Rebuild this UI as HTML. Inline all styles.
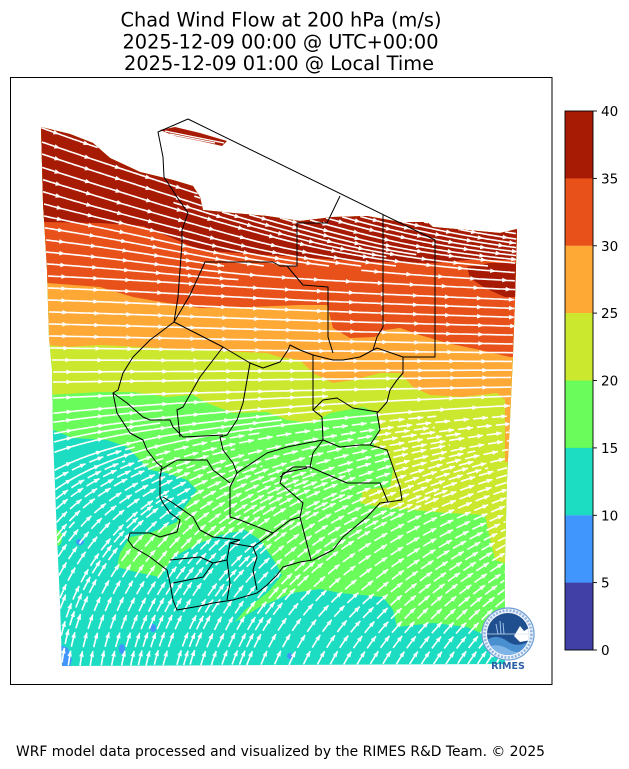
<!DOCTYPE html>
<html><head><meta charset="utf-8"><style>
html,body{margin:0;padding:0;background:#fff;}
body{width:629px;height:769px;overflow:hidden;}
svg{display:block;}
text{font-family:"DejaVu Sans","Liberation Sans",sans-serif;fill:#000;}
</style></head><body>
<svg id="s" width="629" height="769" viewBox="0 0 629 769" xmlns="http://www.w3.org/2000/svg">
<rect width="629" height="769" fill="#fff"/>
<defs>
<clipPath id="dom"><polygon points="41,127 70,134 93,143 110,158 140,172 173,180 193,186 200,197 203,210 233,213 267,216 300,221 333,217 367,216 400,222 427,222 433,227 467,230 500,233 517,229 515,300 513,355 510,420 507,480 505,560 505,664 62,666 60,603 57,537 53,437 52,370 49,337 47,270 43,203"/></clipPath>
<clipPath id="logoc"><circle cx="508" cy="634" r="21"/></clipPath>
</defs>
<g clip-path="url(#dom)">
<rect x="0" y="0" width="629" height="769" fill="#1cdcc2"/>
<polygon fill="#6afc5b" points="0,430 53,430 73,438 107,440 127,447 140,460 150,470 167,473 187,480 197,490 190,500 180,513 177,522 150,533 130,537 120,553 117,567 140,573 160,577 167,567 173,557 200,543 220,535 245,530 260,540 275,562 282,575 268,592 245,610 235,622 260,607 292,593 320,589 340,593 383,597 393,610 397,627 433,623 467,627 490,637 505,645 600,645 600,0 0,0"/>
<ellipse cx="57" cy="538" rx="5" ry="8" fill="#6afc5b"/>
<polygon fill="#cbe82e" points="0,395 48,395 100,392 133,392 167,397 193,395 207,403 233,413 267,412 287,420 313,423 330,413 363,407 377,413 380,430 373,447 387,450 393,470 390,487 363,490 360,503 380,507 413,510 447,513 485,515 488,530 495,560 510,565 600,565 600,0 0,0"/>
<polygon fill="#fea836" points="0,345 49,345 67,347 100,345 200,350 267,353 280,357 300,360 313,373 333,383 353,380 380,373 400,373 413,387 430,395 463,397 497,393 505,400 505,462 600,462 600,0 0,0"/>
<polygon fill="#e9511a" points="0,283 47,283 100,287 133,297 167,303 200,308 250,307 300,305 327,305 333,328 350,338 375,337 385,330 400,328 420,335 447,343 480,350 510,357 600,357 600,0 0,0"/>
<polygon fill="#a71a04" points="0,222 43,222 100,223 143,226 170,237 200,250 250,254 300,257 340,260 383,262 433,263 467,260 517,260 600,260 600,0 0,0"/>
<polygon fill="#a71a04" points="467,267 490,263 517,263 517,297 505,297 485,288 470,278"/>
<g fill="#4196fe">
<ellipse cx="80" cy="542" rx="4" ry="3"/>
<ellipse cx="153" cy="628" rx="3" ry="4"/>
<ellipse cx="122" cy="649" rx="3" ry="5"/>
<polygon points="60,645 68,648 72,660 70,666 60,666"/>
<ellipse cx="290" cy="656" rx="3" ry="3"/>
</g>
<g id="stream"></g>
</g>
<polygon fill="#a71a04" points="160,130 175,127 200,133 227,141 222,146 200,141 175,136"/>
<path d="M165,131 L224,143 M170,134 L215,143" stroke="#fff" stroke-width="1.2" fill="none"/>
<g fill="none" stroke="#000" stroke-width="1" stroke-linejoin="round">
<polyline points="188,119 435,240 435,357 403,357 403,373 397,380 390,390 387,402 380,410 377,413 380,430 370,445 387,450 393,467 400,487 402,500 388,502 380,503 367,517 343,537 333,550 313,560 300,562 283,567 277,575 267,585 257,593 233,600 213,603 200,606 177,610 173,600 170,583 167,570 150,557 133,547 128,540 130,533 150,533 160,537 177,532 180,520 170,513 163,503 160,497 160,477 162,467 157,463 147,450 143,440 130,433 117,413 113,393 118,390 123,373 133,357 150,340 174,322 178,297 180,270 182,243 182,230 188,213 177,197 164,177 163,157 158,132 188,119"/>
<polyline points="174,322 190,295 205,262 273,262 280,266 297,266 297,223 327,223 340,196"/>
<polyline points="287,266 303,285 328,287 328,337 333,353"/>
<polyline points="383,215 383,327 377,337 373,350"/>
<polyline points="174,322 223,347 250,363 263,368 280,362 288,350 290,345 300,350 313,355 333,360 343,360 360,357 373,350 377,348 403,357"/>
<polyline points="223,347 200,377 183,407 177,410 180,437"/>
<polyline points="250,363 243,403 237,420 227,435 220,437 223,450 233,463 237,473 230,487 230,517 240,520 273,533 290,520 300,517 303,503 280,483 283,473 307,468"/>
<polyline points="313,355 313,410 323,400 337,398 353,408 378,412"/>
<polyline points="313,410 322,417 323,440 313,453 310,467 347,483 380,483 388,502"/>
<polyline points="237,473 267,453 287,447 307,443 323,440 340,447 360,445 370,445"/>
<polyline points="310,467 293,467 280,477"/>
<polyline points="300,517 311,560"/>
<polyline points="113,393 127,403 143,417 150,420 170,420 173,427 183,437 223,435"/>
<polyline points="160,470 177,460 207,460 213,470 230,483"/>
<polyline points="163,497 173,503 193,517 200,530 213,537 240,540"/>
<polyline points="170,560 200,557 213,563 203,577 173,583"/>
<polyline points="213,563 227,560 230,543 240,540"/>
<polyline points="227,560 230,583 227,600"/>
<polyline points="230,543 253,547 257,557 253,570 257,590"/>
<polyline points="253,547 273,533"/>
</g>
<rect x="10.5" y="77.5" width="541.5" height="607" fill="none" stroke="#000" stroke-width="1"/>
<!-- colorbar -->
<g>
<rect x="565" y="111" width="28" height="67.5" fill="#a71a04"/>
<rect x="565" y="178.4" width="28" height="67.5" fill="#e9511a"/>
<rect x="565" y="245.8" width="28" height="67.5" fill="#fea836"/>
<rect x="565" y="313.1" width="28" height="67.5" fill="#cbe82e"/>
<rect x="565" y="380.5" width="28" height="67.5" fill="#6afc5b"/>
<rect x="565" y="447.9" width="28" height="67.5" fill="#1cdcc2"/>
<rect x="565" y="515.3" width="28" height="67.5" fill="#4196fe"/>
<rect x="565" y="582.6" width="28" height="67.4" fill="#4140a6"/>
<rect x="565" y="111" width="28" height="539" fill="none" stroke="#000" stroke-width="0.9"/>
<g stroke="#000" stroke-width="0.9">
<line x1="593" y1="111" x2="597" y2="111"/><line x1="593" y1="178.4" x2="597" y2="178.4"/>
<line x1="593" y1="245.8" x2="597" y2="245.8"/><line x1="593" y1="313.1" x2="597" y2="313.1"/>
<line x1="593" y1="380.5" x2="597" y2="380.5"/><line x1="593" y1="447.9" x2="597" y2="447.9"/>
<line x1="593" y1="515.3" x2="597" y2="515.3"/><line x1="593" y1="582.6" x2="597" y2="582.6"/>
<line x1="593" y1="650" x2="597" y2="650"/>
</g>
<g font-size="13.5">
<text x="601" y="116">40</text><text x="601" y="183.4">35</text><text x="601" y="250.8">30</text>
<text x="601" y="318.1">25</text><text x="601" y="385.5">20</text><text x="601" y="452.9">15</text>
<text x="601" y="520.3">10</text><text x="601" y="587.6">5</text><text x="601" y="655">0</text>
</g>
</g>
<!-- logo -->
<g>
<circle cx="508" cy="634" r="26" fill="#eef4fb" stroke="#6b9bd2" stroke-width="1.2"/>
<circle cx="508" cy="634" r="23.5" fill="none" stroke="#8fb3de" stroke-width="2.5" stroke-dasharray="2 1.5"/>
<circle cx="508" cy="634" r="21" fill="#1f4f8f"/>
<g clip-path="url(#logoc)">
<path d="M485,641 Q496,633 507,641 T531,640 L531,660 L485,660 Z" fill="#4a8fd0"/>
<path d="M485,648 Q497,642 508,649 T531,648 L531,660 L485,660 Z" fill="#7fb4e6"/>
<path d="M514,636 L520,626 L524,631 L529,628 L531,640 L520,642 Z" fill="#ffffff"/>
<path d="M496,624 L498,634 M500,621 L501,634 M503,623 L504,634" stroke="#9fc4ea" stroke-width="1"/>
<line x1="487" y1="634" x2="529" y2="634" stroke="#cfe0f3" stroke-width="0.8"/>
</g>
<text x="508" y="669" font-size="9.5" font-weight="bold" text-anchor="middle" style="fill:#2a5fa5">RIMES</text>
</g>
<!-- titles -->
<text x="281" y="26.7" font-size="19.2" text-anchor="middle" textLength="321" lengthAdjust="spacingAndGlyphs">Chad Wind Flow at 200 hPa (m/s)</text>
<text x="280.5" y="48.3" font-size="19.2" text-anchor="middle" textLength="316" lengthAdjust="spacingAndGlyphs">2025-12-09 00:00 @ UTC+00:00</text>
<text x="279" y="70" font-size="19.2" text-anchor="middle" textLength="310" lengthAdjust="spacingAndGlyphs">2025-12-09 01:00 @ Local Time</text>
<text x="16" y="756" font-size="13.8" textLength="529" lengthAdjust="spacingAndGlyphs">WRF model data processed and visualized by the RIMES R&amp;D Team. © 2025</text>
</svg>
<script>
(function(){
var rows=[125,200,240,280,340,390,430,470,530,600,670];
var cols=[40,200,360,520];
var A=[
[-20,-20,-16,-10],
[-16,-18,-16,-10],
[-6,-15,-14,-8],
[-2,-4,-3,-3],
[-1,-1,-1,-1],
[1,1,1,1],
[10,8,8,6],
[28,20,18,15],
[52,42,30,25],
[70,58,42,38],
[86,75,62,58]];
function idx(arr,v){var n=arr.length;if(v<=arr[0])return [0,0];if(v>=arr[n-1])return [n-2,1];
for(var i=0;i<n-1;i++){if(v<=arr[i+1])return [i,(v-arr[i])/(arr[i+1]-arr[i])];}return [n-2,1];}
function ang(x,y){var r=idx(rows,y),c=idx(cols,x);var i=r[0],t=r[1],j=c[0],s=c[1];
var a=A[i][j]*(1-s)+A[i][j+1]*s,b=A[i+1][j]*(1-s)+A[i+1][j+1]*s;return (a*(1-t)+b*t)*Math.PI/180;}
var dom=[[41,127],[70,134],[93,143],[110,158],[140,172],[173,180],[193,186],[200,197],[203,210],[233,213],[267,216],[300,221],[333,217],[367,216],[400,222],[427,222],[433,227],[467,230],[500,233],[517,229],[515,300],[513,355],[510,420],[507,480],[505,560],[505,664],[62,666],[60,603],[57,537],[53,437],[52,370],[49,337],[47,270],[43,203]];
function inDom(x,y){var ins=false;for(var i=0,j=dom.length-1;i<dom.length;j=i++){var xi=dom[i][0],yi=dom[i][1],xj=dom[j][0],yj=dom[j][1];
if(((yi>y)!=(yj>y))&&(x<(xj-xi)*(y-yi)/(yj-yi)+xi))ins=!ins;}return ins;}
function dsep(x,y){if(y<266){var w=Math.min(1,Math.max(0,(x-170)/35));return 10.5*(1-w)+4.6*w;}
if(y<420)return 10.5;if(y<470)return 8;return 6.3;}
var CS=2,GW=320,GH=390,grid=new Int32Array(GW*GH);for(var q=0;q<grid.length;q++)grid[q]=-1;
function near(x,y,r,id){var cx=Math.floor(x/CS),cy=Math.floor(y/CS),R=Math.ceil(r/CS),r2=r*r;
for(var dy=-R;dy<=R;dy++){var gy=cy+dy;if(gy<0||gy>=GH)continue;
for(var dx=-R;dx<=R;dx++){var gx=cx+dx;if(gx<0||gx>=GW)continue;var v=grid[gy*GW+gx];
if(v>=0&&v!==id){var px=(gx+0.5)*CS-x,py=(gy+0.5)*CS-y;if(px*px+py*py<=r2)return true;}}}return false;}
function mark(x,y,id){var cx=Math.floor(x/CS),cy=Math.floor(y/CS);if(cx>=0&&cx<GW&&cy>=0&&cy<GH)grid[cy*GW+cx]=id;}
function trace(sx,sy,id){var fwd=[],bwd=[];mark(sx,sy,id);
for(var pass=0;pass<2;pass++){var dir=pass===0?1:-1,x=sx,y=sy,out=pass===0?fwd:bwd;
for(var k=0;k<1400;k++){var a=ang(x,y),mx=x+dir*0.5*Math.cos(a),my=y-dir*0.5*Math.sin(a),a2=ang(mx,my);
x+=dir*Math.cos(a2);y-=dir*Math.sin(a2);
if(!inDom(x,y))break;if(near(x,y,0.5*dsep(x,y),id))break;out.push([x,y]);mark(x,y,id);}}
return bwd.reverse().concat([[sx,sy]],fwd);}
var lines=[],id=0;
for(var y=118;y<668;y+=2){for(var x=38;x<520;x+=2){if(!inDom(x,y))continue;if(near(x,y,dsep(x,y),-2))continue;
var p=trace(x,y,id++);if(p.length>=5)lines.push(p);}}
var solid="",dashed="",arrows="";
function f(v){return v.toFixed(1);}
lines.forEach(function(p){var my=0;for(var i=0;i<p.length;i++)my+=p[i][1];my/=p.length;var south=my>450;
var d="M"+f(p[0][0])+" "+f(p[0][1]);for(var i=2;i<p.length;i+=2)d+="L"+f(p[i][0])+" "+f(p[i][1]);
d+="L"+f(p[p.length-1][0])+" "+f(p[p.length-1][1]);
if(south)dashed+=d;else solid+=d;
var per=south?19:32,next=south?12:16;
for(var i=1;i<p.length-1;i++){if(i>=next){var dx=p[i+1][0]-p[i-1][0],dy=p[i+1][1]-p[i-1][1],L=Math.sqrt(dx*dx+dy*dy)||1;dx/=L;dy/=L;
var X=p[i][0],Y=p[i][1];
arrows+="M"+f(X+3.2*dx)+" "+f(Y+3.2*dy)+"L"+f(X-2.6*dx+2.3*dy)+" "+f(Y-2.6*dy-2.3*dx)+"L"+f(X-2.6*dx-2.3*dy)+" "+f(Y-2.6*dy+2.3*dx)+"Z";
next+=per;}}});
var g=document.getElementById("stream"),NS="http://www.w3.org/2000/svg";
function mk(d,attrs){var e=document.createElementNS(NS,"path");e.setAttribute("d",d);for(var k in attrs)e.setAttribute(k,attrs[k]);g.appendChild(e);}
mk(solid,{fill:"none",stroke:"#fff","stroke-width":"1.6"});
mk(dashed,{fill:"none",stroke:"#fff","stroke-width":"1.6","stroke-dasharray":"15 4"});
mk(arrows,{fill:"#fff",stroke:"none"});
})();
</script>
</body></html>
